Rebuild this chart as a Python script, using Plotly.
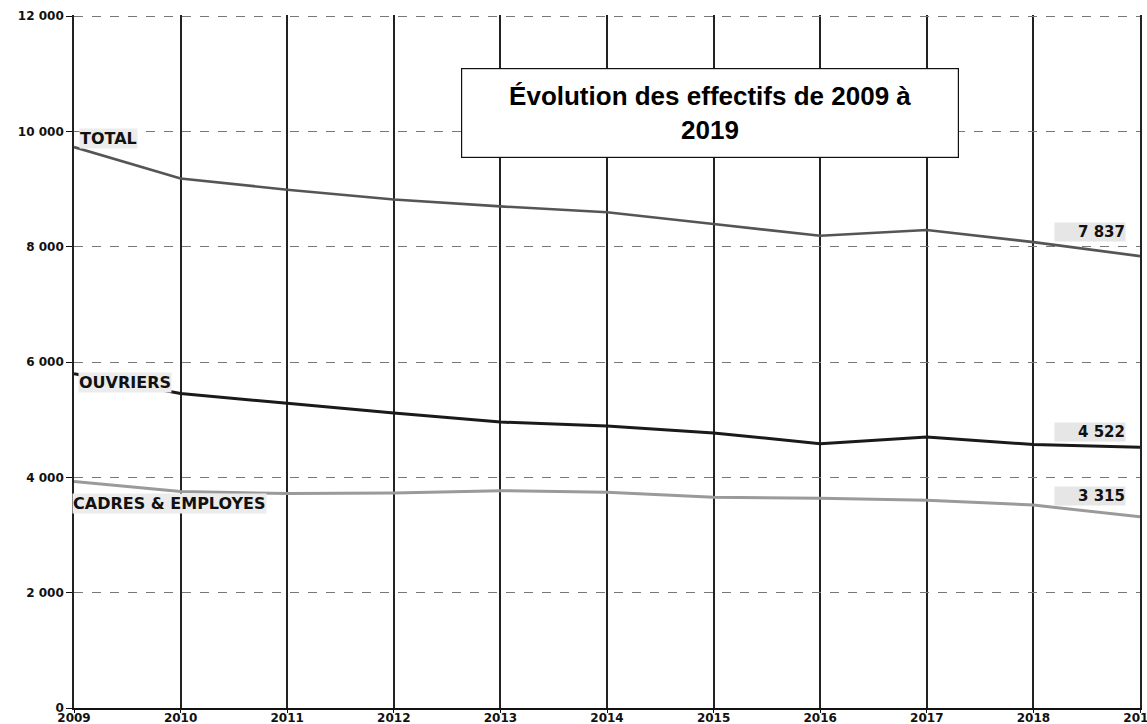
import plotly.graph_objects as go

years = [2009, 2010, 2011, 2012, 2013, 2014, 2015, 2016, 2017, 2018, 2019]
total = [9730, 9185, 8990, 8820, 8700, 8600, 8395, 8190, 8290, 8080, 7837]
ouvriers = [5800, 5455, 5285, 5115, 4960, 4890, 4770, 4585, 4700, 4570, 4522]
cadres = [3930, 3755, 3720, 3730, 3770, 3740, 3655, 3640, 3605, 3520, 3315]
y_ticks = [0, 2000, 4000, 6000, 8000, 10000, 12000]
y_ticktext = ["0", "2 000", "4 000", "6 000", "8 000", "10 000", "12 000"]
title_text = "Évolution des effectifs de 2009 à<br>2019"

FONT = "DejaVu Sans, Verdana, sans-serif"
TFONT = "Liberation Sans, Arial, sans-serif"

fig = go.Figure()
fig.add_trace(go.Scatter(x=years, y=total, mode="lines", name="TOTAL",
                         line=dict(color="#555555", width=2.6)))
fig.add_trace(go.Scatter(x=years, y=ouvriers, mode="lines", name="OUVRIERS",
                         line=dict(color="#1a1a1a", width=3)))
fig.add_trace(go.Scatter(x=years, y=cadres, mode="lines", name="CADRES & EMPLOYES",
                         line=dict(color="#9a9a9a", width=3)))

# series name labels at the left
name_labels = [("TOTAL", total[0], 9, 5), ("OUVRIERS", ouvriers[0], -9, 4), ("CADRES & EMPLOYES", cadres[0], -22, -2)]
for txt, yv, ys, xs in name_labels:
    fig.add_annotation(x=years[0], y=yv, xref="x", yref="y", text="<b>%s</b>" % txt,
                       showarrow=False, xanchor="left", yanchor="middle", xshift=xs, yshift=ys,
                       font=dict(family=FONT, size=16, color="#111"),
                       bgcolor="#ececec", borderpad=0)

# end value labels
end_labels = [(total[-1], 24), (ouvriers[-1], 15), (cadres[-1], 21)]
for v, ys in end_labels:
    txt = "{:,}".format(v).replace(",", " ")
    fig.add_annotation(x=years[-1], y=v, xref="x", yref="y", text="<b>%s</b>" % txt,
                       showarrow=False, xanchor="right", yanchor="middle", xshift=-14, yshift=ys,
                       font=dict(family=FONT, size=15, color="#111"),
                       bgcolor="#e6e6e6", width=70, align="right", borderpad=0)

fig.add_annotation(x=0.5967, y=0.858, xref="paper", yref="paper", text="<b>%s</b>" % title_text,
                   showarrow=False, xanchor="center", yanchor="middle",
                   font=dict(family=TFONT, size=26, color="#000"),
                   bgcolor="white", bordercolor="#111", borderwidth=1.2,
                   width=494, height=86, align="center")

fig.update_layout(
    width=1147, height=724,
    margin=dict(l=74, r=7, t=15, b=16),
    paper_bgcolor="white", plot_bgcolor="white",
    showlegend=False,
    font=dict(family=FONT, color="#111"),
)
fig.update_xaxes(range=[2009, 2019], tickvals=years, ticktext=[str(y) for y in years],
                 showgrid=True, gridcolor="#222222", gridwidth=1.6,
                 showline=True, linecolor="#111", linewidth=1.5,
                 ticks="outside", ticklen=3, tickcolor="#111",
                 tickfont=dict(family=FONT, size=12, color="#111", weight="bold"),
                 ticklabelstandoff=-5,
                 ticklabeloverflow="allow", automargin=False,
                 zeroline=False)
fig.update_yaxes(range=[0, 12020], tickvals=y_ticks, ticktext=y_ticktext,
                 showgrid=True, gridcolor="#777777", gridwidth=1, griddash="dash",
                 showline=True, linecolor="#222", linewidth=1.6, mirror=True,
                 ticks="outside", ticklen=6, tickcolor="#111",
                 tickfont=dict(family=FONT, size=12, color="#111", weight="bold"),
                 automargin=False,
                 zeroline=False)

fig.write_html("out.html", config={"displayModeBar": False},
               post_script="document.body.style.margin='0';")
